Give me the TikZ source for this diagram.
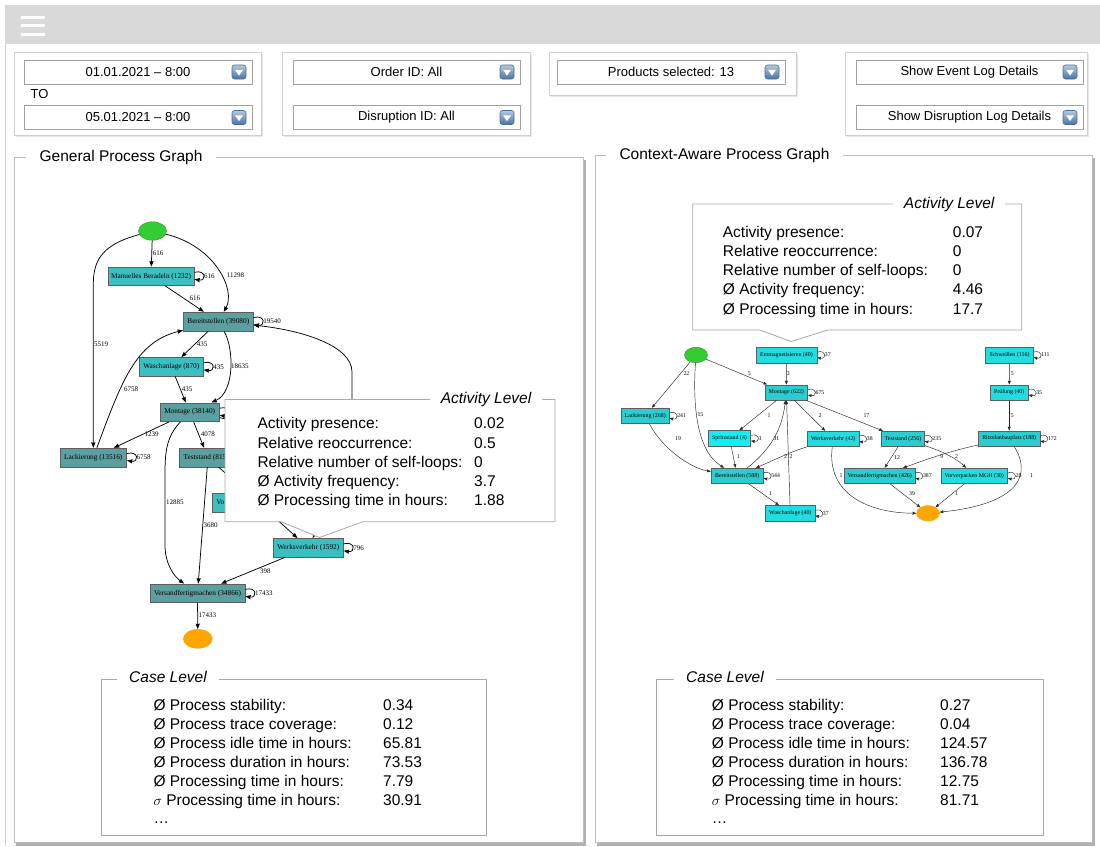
\documentclass[tikz,border=0pt]{standalone}
\usepackage{fontspec}
\setmainfont{Liberation Sans}
\newfontfamily\graphfont{Liberation Serif}
\usetikzlibrary{arrows.meta,shapes.geometric}

\definecolor{barGrey}{HTML}{D9D9D9}
\definecolor{panelLine}{HTML}{CFCFCF}
\definecolor{panelShade}{HTML}{E6E6E6}
\definecolor{ddLine}{HTML}{A0A0A0}
\definecolor{iconTop}{HTML}{B3C9E0}
\definecolor{iconBot}{HTML}{4A74A2}
\definecolor{iconLine}{HTML}{4A6C92}
\definecolor{frameLine}{HTML}{BDBDBD}
\definecolor{frameShade}{HTML}{B0B0B0}
\definecolor{boxLine}{HTML}{A8A8A8}
\definecolor{tealDark}{HTML}{5B9FA1}
\definecolor{tealLight}{HTML}{3CBFC1}
\definecolor{cyanMid}{HTML}{2CCDD0}
\definecolor{cyanBright}{HTML}{22DCDF}
\definecolor{cyanVivid}{HTML}{12EEF1}
\definecolor{nodeLine}{HTML}{5E5E5E}
\definecolor{startGreen}{HTML}{33CC33}
\definecolor{endOrange}{HTML}{FFA500}

\tikzset{
  uitext/.style={font=\fontsize{13}{15}\selectfont, inner sep=0},
  panel/.style={draw=panelLine, fill=white, line width=0.8},
  panelshade/.style={fill=panelShade},
  dropbox/.style={rectangle, draw=ddLine, fill=white, line width=0.8, inner sep=0,
    minimum height=24, font=\fontsize{13}{15}\selectfont},
  ddicon/.style={rectangle, rounded corners=2.5pt, minimum size=14pt, inner sep=0,
    draw=iconLine, line width=0.6, top color=iconTop, bottom color=iconBot},
  frame/.style={draw=frameLine, fill=white, line width=0.9},
  frameshadow/.style={draw=frameShade, line width=2.2},
  frametitle/.style={fill=white, inner xsep=14, inner ysep=2, font=\fontsize{15.5}{18}\selectfont},
  infobox/.style={draw=boxLine, fill=white, line width=0.8},
  infotitle/.style={fill=white, inner xsep=11, inner ysep=2, font=\fontsize{15.5}{18}\selectfont\itshape},
  metric/.style={anchor=base west, inner sep=0, font=\fontsize{15.5}{18}\selectfont},
  gL/.style={rectangle, draw=nodeLine, line width=0.6, inner sep=0, minimum height=18.8,
    font=\graphfont\fontsize{7.3}{8}\selectfont},
  gR/.style={rectangle, draw=nodeLine, line width=0.5, inner sep=0, minimum height=15.5,
    font=\graphfont\fontsize{5.9}{7}\selectfont},
  startnode/.style={ellipse, fill=startGreen, draw=startGreen!75!black, line width=0.4, inner sep=0},
  endnode/.style={ellipse, fill=endOrange, draw=endOrange, line width=0.4, inner sep=0},
  eL/.style={draw=black, line width=0.75, -{Stealth[length=5.5pt,width=4.2pt,inset=0.6pt]}},
  eR/.style={draw=black!85, line width=0.45, -{Stealth[length=3.8pt,width=3pt,inset=0.4pt]}},
  lblL/.style={anchor=west, inner sep=0, font=\graphfont\fontsize{7}{8}\selectfont},
  lblR/.style={anchor=west, inner sep=0, font=\graphfont\fontsize{5.8}{7}\selectfont},
}

% drop-down field with its arrow button: name, centre x, centre y, width, text
\newcommand\dropdown[5]{%
  \node[dropbox, minimum width=#4] (#1) at (#2,#3) {#5};
  \node[ddicon] (#1i) at ([xshift=-13.4pt]#1.east) {};
  \fill[white] ([xshift=-4pt,yshift=2.2pt]#1i.center) -- ([xshift=4pt,yshift=2.2pt]#1i.center)
    -- ([yshift=-3.6pt]#1i.center) -- cycle;}

% self-loops of the process graphs
\newcommand\loopL[2]{%
  \draw[eL] ([yshift=4pt]#1.east) .. controls +(12pt,3pt) and +(12pt,-2pt) .. ([yshift=-3pt]#1.east);
  \node[lblL] (#1lp) at ([xshift=9.5pt]#1.east) {#2};}
\newcommand\loopR[2]{%
  \draw[eR] ([yshift=3pt]#1.east) .. controls +(9.5pt,2.5pt) and +(9.5pt,-2pt) .. ([yshift=-2.5pt]#1.east);
  \node[lblR] (#1lp) at ([xshift=7.5pt]#1.east) {#2};}

\begin{document}
\begin{tikzpicture}[x=1pt,y=-1pt]
\useasboundingbox (0,0) rectangle (1100,846);
\fill[white] (0,0) rectangle (1100,846);

% ---------- header bar ----------
\fill[barGrey] (5,5) rectangle (1100,44);
\foreach \yy in {17,25.5,34}
  \draw[white, line width=3] (21,\yy) -- (44.5,\yy);
\draw[panelLine, line width=0.8] (5.5,44) -- (5.5,846);

% ---------- filter panels ----------
\fill[panelshade] (15.5,54) rectangle (263,137);
\draw[panel] (14,52.5) rectangle (261,135);
\fill[panelshade] (284,54) rectangle (532,137);
\draw[panel] (282.5,52.5) rectangle (530,135);
\fill[panelshade] (550.5,54) rectangle (798,97);
\draw[panel] (549,52.5) rectangle (796,95);
\fill[panelshade] (846.5,54) rectangle (1089,137);
\draw[panel] (845,52.5) rectangle (1087,135);

\dropdown{ddFrom}{138}{72}{228}{01.01.2021 -- 8:00}
\node[uitext, anchor=west] (toLbl) at (30.5,94) {TO};
\dropdown{ddTo}{138}{117.5}{228}{05.01.2021 -- 8:00}
\dropdown{ddOrder}{406.5}{72}{227}{Order ID: All}
\dropdown{ddDisr}{406.5}{117.5}{227}{Disruption ID: All}
\dropdown{ddProd}{671}{72}{228}{Products selected: 13}
\dropdown{ddEvent}{969.5}{72}{227}{Show Event Log Details}
\dropdown{ddDlog}{969.5}{117.5}{227}{Show Disruption Log Details}

% ---------- frames ----------
\draw[frameshadow] (585,159.5) -- (585,844.5) -- (16,844.5);
\draw[frame] (14,157.5) rectangle (583,842.5);
\node[frametitle] (gpgTitle) at (121,157.5) {General Process Graph};
\draw[frameshadow] (1094,157.5) -- (1094,844.5) -- (597,844.5);
\draw[frame] (595,155.5) rectangle (1092,842.5);
\node[frametitle] (capgTitle) at (724.5,155.5) {Context-Aware Process Graph};

% ---------- general process graph ----------
\node[startnode, minimum width=28, minimum height=18.5] (lS) at (152.5,231) {};
\node[gL, fill=tealLight, minimum width=86.3] (lMa) at (151,276.3) {Manuelles Beradeln (1232)};
\node[gL, fill=tealDark, minimum width=70] (lBe) at (218.3,321.5) {Bereitstellen (39080)};
\node[gL, fill=tealLight, minimum width=64] (lWa) at (171.3,366.8) {Waschanlage (870)};
\node[gL, fill=tealDark, minimum width=59.3] (lMo) at (189.7,412.2) {Montage (38140)};
\node[gL, fill=tealDark, minimum width=66.7] (lLa) at (93.3,457.5) {Lackierung (13516)};
\node[gL, fill=tealDark, minimum width=57.5] (lTs) at (208,457.5) {Teststand (8156)};
\node[gL, fill=tealLight, minimum width=68, text width=60, align=left] (lVo) at (246.3,502.5) {Vo};
\node[gL, fill=tealLight, minimum width=70] (lWv) at (308.3,547.8) {Werksverkehr (1592)};
\node[gL, fill=tealDark, minimum width=95] (lVf) at (197.5,593.3) {Versandfertigmachen (34866)};
\node[endnode, minimum width=29, minimum height=19] (lE) at (197.8,638.8) {};

\coordinate (lw1) at (93.3,285);
\coordinate (lw2) at (165,478);
\coordinate (lw3) at (165,545);
\coordinate (lh1) at (352,470);
\coordinate (lh2) at (352,372);

\draw[eL] (lS) -- (lMa);
\draw[eL] (lS) .. controls (215,246) and (236,290) .. (lBe);
\draw[eL] (lS) .. controls (100,245) and (93.3,262) .. (lw1) -- (lLa);
\draw[eL] (lMa) -- (lBe);
\draw[eL] (lBe) -- (lWa);
\draw[eL] (lBe) .. controls (234,348) and (235,392) .. (lMo);
\draw[eL] (lWa) -- (lMo);
\draw[eL] (lLa) .. controls (122,380) and (136,342) .. (lBe);
\draw[eL] (lMo) -- (lLa);
\draw[eL] (lMo) -- (lTs);
\draw[eL] (lMo) .. controls (165,438) and (165,455) .. (lw2) -- (lw3) .. controls (165,565) and (175,577) .. (lVf);
\draw[eL] (lTs) -- (lVf);
\draw[eL] (lTs) -- (lWv);
\draw[eL] (lMo) .. controls (260,425) and (330,500) .. (lWv);
\draw[eL] (lh1) -- (lh2) .. controls (352,345) and (300,330) .. (lBe);
\draw[eL] (lWv) -- (lVf);
\draw[eL] (lVf) -- (lE);

\loopL{lMa}{616}
\loopL{lBe}{19540}
\loopL{lWa}{435}
\loopL{lLa}{6758}
\loopL{lWv}{796}
\loopL{lVf}{17433}
\draw[eL] ([yshift=4pt]lMo.east) .. controls +(12pt,3pt) and +(12pt,-2pt) .. ([yshift=-3pt]lMo.east);

\node[lblL] (lb1) at (152.7,253.3) {616};
\node[lblL] (lb2) at (226.7,275.7) {11298};
\node[lblL] (lb3) at (94,344) {5519};
\node[lblL] (lb4) at (189.3,298.3) {616};
\node[lblL] (lb5) at (196.7,344) {435};
\node[lblL] (lb6) at (231,366) {18635};
\node[lblL] (lb7) at (181.7,389) {435};
\node[lblL] (lb8) at (124,389) {6758};
\node[lblL] (lb9) at (144.3,434) {1239};
\node[lblL] (lb10) at (200.7,434) {4078};
\node[lblL] (lb11) at (166,502.3) {12885};
\node[lblL] (lb12) at (203.3,525) {3680};
\node[lblL] (lb13) at (260,570.7) {398};
\node[lblL] (lb14) at (198.3,615) {17433};

% activity tooltip over the general graph
\draw[infobox] (225,399.5) -- (225,521.7) -- (281,521.7) -- (319.5,537.5) -- (363,521.7)
  -- (555,521.7) -- (555,399.5) -- cycle;
\node[infotitle] (alTitleL) at (486,399.5) {Activity Level};
\foreach \lab/\val [count=\i from 0] in {Activity presence:/0.02, Relative reoccurrence:/0.5,
    Relative number of self-loops:/0, Ø Activity frequency:/3.7, Ø Processing time in hours:/1.88} {
  \node[metric] (alL\i) at (257.3,{423.3+19.2*\i+5.5}) {\lab};
  \node[metric] (avL\i) at (474,{423.3+19.2*\i+5.5}) {\val};
}

% ---------- context-aware process graph ----------
\node[startnode, minimum width=23, minimum height=15.5] (rS) at (696,355) {};
\node[gR, fill=cyanBright, minimum width=61] (rEn) at (786.5,355) {Entmagnetisieren (40)};
\node[gR, fill=cyanMid, minimum width=42.7] (rMo) at (786.3,392.5) {Montage (622)};
\node[gR, fill=cyanMid, minimum width=48.3] (rLa) at (645.2,415.8) {Lackierung (268)};
\node[gR, fill=cyanVivid, minimum width=42.3] (rSp) at (729.5,438.3) {Spritzstand (4)};
\node[gR, fill=cyanBright, minimum width=51.3] (rWv) at (833.3,438.8) {Werksverkehr (42)};
\node[gR, fill=cyanMid, minimum width=43] (rTs) at (903,438.8) {Teststand (256)};
\node[gR, fill=cyanMid, minimum width=61.7] (rRi) at (1009.2,438.5) {Ritzelanbauplatz (188)};
\node[gR, fill=cyanMid, minimum width=52.3] (rBe) at (737.2,475.8) {Bereitstellen (588)};
\node[gR, fill=cyanBright, minimum width=49.3] (rWa) at (790.3,513.3) {Waschanlage (40)};
\node[gR, fill=cyanMid, minimum width=70.7] (rVf) at (879.7,475.8) {Versandfertigmachen (426)};
\node[gR, fill=cyanBright, minimum width=66.7] (rVv) at (974.3,475.8) {Vorverpacken MGH (30)};
\node[gR, fill=cyanBright, minimum width=47.7] (rSw) at (1009.5,355) {Schweißen (116)};
\node[gR, fill=cyanBright, minimum width=38.3] (rPr) at (1009.2,392.5) {Prüfung (40)};
\node[endnode, minimum width=23, minimum height=15.5] (rE) at (928,513.3) {};

\draw[eR] (rS) -- (rLa);
\draw[eR] (rS) .. controls (693,400) and (695,450) .. (rBe);
\draw[eR] (rS) -- (rMo);
\draw[eR] (rEn) -- (rMo);
\draw[eR] (rMo) -- (rSp);
\draw[eR] (rMo) -- (rWv);
\draw[eR] (rMo) -- (rTs);
\draw[eR] (rBe) .. controls (770,450) and (782,430) .. (rMo);
\draw[eR] (rWa) -- (rMo);
\draw[eR] (rWv) .. controls (790,452) and (772,461) .. (rBe);
\draw[eR] (rSp) -- (rBe);
\draw[eR] (rLa) .. controls (662,448) and (690,468) .. (rBe);
\draw[eR] (rBe) -- (rWa);
\draw[eR] (rWv) .. controls (826,495) and (870,513) .. (rE);
\draw[eR] (rTs) -- (rVf);
\draw[eR] (rVf) -- (rE);
\draw[eR] (rTs) .. controls (945,452) and (958,460) .. (rVv);
\draw[eR] (rRi) .. controls (945,452) and (920,462) .. (rVf);
\draw[eR] (rRi) .. controls (1035,480) and (1010,505) .. (rE);
\draw[eR] (rVv) -- (rE);
\draw[eR] (rSw) -- (rPr);
\draw[eR] (rPr) -- (rRi);

\loopR{rEn}{37}
\loopR{rMo}{675}
\loopR{rLa}{241}
\loopR{rSp}{3}
\loopR{rWv}{38}
\loopR{rBe}{544}
\loopR{rWa}{37}
\loopR{rVf}{387}
\loopR{rTs}{235}
\loopR{rRi}{172}
\loopR{rVv}{28}
\loopR{rSw}{111}
\loopR{rPr}{35}

\node[lblR] (rb1) at (683.3,373.3) {22};
\node[lblR] (rb2) at (697.3,415) {15};
\node[lblR] (rb3) at (747.7,373.3) {5};
\node[lblR] (rb4) at (786.7,373.3) {3};
\node[lblR] (rb5) at (767.3,415.3) {1};
\node[lblR] (rb6) at (818.3,415.3) {2};
\node[lblR] (rb7) at (863.3,415.3) {17};
\node[lblR] (rb8) at (675,438.7) {19};
\node[lblR] (rb9) at (773.3,438.7) {31};
\node[lblR] (rb10) at (736.7,456.7) {1};
\node[lblR] (rb11) at (784,456.7) {2};
\node[lblR] (rb12) at (789.5,456.7) {2};
\node[lblR] (rb13) at (769,494) {1};
\node[lblR] (rb14) at (839.3,476) {1};
\node[lblR] (rb15) at (894,457.3) {12};
\node[lblR] (rb16) at (940,456.7) {9};
\node[lblR] (rb17) at (955,456.7) {2};
\node[lblR] (rb18) at (909,494) {39};
\node[lblR] (rb19) at (955,494) {1};
\node[lblR] (rb20) at (1030,476) {1};
\node[lblR] (rb21) at (1010.7,373.3) {5};
\node[lblR] (rb22) at (1010.7,415.3) {5};

% activity tooltip over the context-aware graph
\draw[infobox] (692.7,204) -- (692.7,330) -- (760,330) -- (791,341.5) -- (828,330)
  -- (1021.7,330) -- (1021.7,204) -- cycle;
\node[infotitle] (alTitleR) at (949.2,204) {Activity Level};
\foreach \lab/\val [count=\i from 0] in {Activity presence:/0.07, Relative reoccurrence:/0,
    Relative number of self-loops:/0, Ø Activity frequency:/4.46, Ø Processing time in hours:/17.7} {
  \node[metric] (alR\i) at (722.7,{231.7+19.2*\i+5.5}) {\lab};
  \node[metric] (avR\i) at (952.7,{231.7+19.2*\i+5.5}) {\val};
}

% ---------- case level boxes ----------
\draw[infobox] (101.7,679) rectangle (486.7,835);
\node[infotitle, inner xsep=12] (clTitleL) at (168,677) {Case Level};
\foreach \lab/\val [count=\i from 0] in {Ø Process stability:/0.34, Ø Process trace coverage:/0.12,
    Ø Process idle time in hours:/65.81, Ø Process duration in hours:/73.53,
    Ø Processing time in hours:/7.79, $\sigma$ Processing time in hours:/30.91} {
  \node[metric] (clL\i) at (153.3,{705+18.9*\i+5.5}) {\lab};
  \node[metric] (cvL\i) at (383,{705+18.9*\i+5.5}) {\val};
}
\node[metric] (clLmore) at (153.3,{705+18.9*6+5.5}) {…};

\draw[infobox] (656.7,679) rectangle (1043,835);
\node[infotitle, inner xsep=12] (clTitleR) at (725,677) {Case Level};
\foreach \lab/\val [count=\i from 0] in {Ø Process stability:/0.27, Ø Process trace coverage:/0.04,
    Ø Process idle time in hours:/124.57, Ø Process duration in hours:/136.78,
    Ø Processing time in hours:/12.75, $\sigma$ Processing time in hours:/81.71} {
  \node[metric] (clR\i) at (711.7,{705+18.9*\i+5.5}) {\lab};
  \node[metric] (cvR\i) at (940,{705+18.9*\i+5.5}) {\val};
}
\node[metric] (clRmore) at (711.7,{705+18.9*6+5.5}) {…};
\end{tikzpicture}
\end{document}
